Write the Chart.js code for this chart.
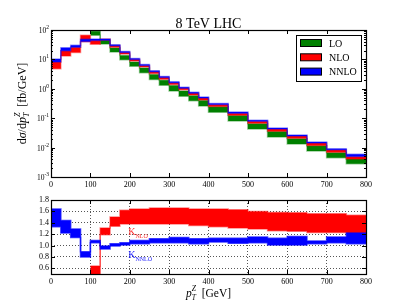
<!DOCTYPE html>
<html lang="en">
<head>
  <meta charset="UTF-8">
  <title>pT(Z) spectrum, 8 TeV LHC</title>
  <style>
    body {
      margin: 0;
      background: #fff;
    }
    .wrap {
      position: relative;
      width: 407px;
      height: 305px;
    }
    #mainChart { position: absolute; left: 0; top: 0; }
    #ratioChart { position: absolute; left: 0; top: 190px; }
  </style>
  <script src="https://cdn.jsdelivr.net/npm/chart.js"></script>
</head>
<body>
  <div class="wrap">
    <canvas id="mainChart" width="407" height="190"></canvas>
    <canvas id="ratioChart" width="407" height="115"></canvas>
  </div>

  <script>
    // --- data ---
    const mainEdges = [0, 25, 50, 75, 100, 125, 150, 175, 200, 225, 250, 275, 300, 325, 350, 375, 400,
                       450, 500, 550, 600, 650, 700, 750, 800];
    const loLow    = [null, null, null, null, 66, 33.4, 17.8, 9.8, 5.8, 3.5, 2.07, 1.33, 0.85, 0.56, 0.39, 0.26,
                      0.16, 0.081, 0.043, 0.023, 0.0132, 0.0076, 0.0045, 0.0028];
    const loHigh   = [null, null, null, null, 90, 45.7, 24.4, 13.7, 8.1, 5.06, 3.08, 1.97, 1.30, 0.85, 0.58, 0.40,
                      0.243, 0.123, 0.065, 0.035, 0.0201, 0.0116, 0.0067, 0.0041];
    const nloLow   = [4.8, 13.0, 17.3, 40, 33, 45, 25.7, 15.2, 8.8, 5.5, 3.3, 2.13, 1.4, 0.92, 0.61, 0.42,
                      0.25, 0.126, 0.067, 0.0358, 0.0207, 0.0119, 0.0069, 0.0041];
    const nloHigh  = [8.3, 20.2, 26, 66, 45, 49, 29.5, 17.4, 10.1, 6.25, 3.85, 2.45, 1.62, 1.06, 0.72, 0.49,
                      0.29, 0.148, 0.0785, 0.043, 0.0248, 0.0143, 0.0085, 0.0050];
    const nnloLow  = [8.1, 19.8, 25.7, 41, 44, 45, 29.3, 17.3, 10, 6.2, 3.8, 2.43, 1.6, 1.05, 0.71, 0.49,
                      0.29, 0.148, 0.0785, 0.043, 0.0248, 0.0143, 0.0085, 0.0050];
    const nnloHigh = [10.3, 25, 30, 48, 49, 49.5, 31.6, 18.7, 10.8, 6.7, 4.1, 2.63, 1.73, 1.14, 0.77, 0.53,
                      0.315, 0.164, 0.085, 0.0466, 0.0269, 0.0155, 0.0092, 0.0059];

    const ratioEdges = [0, 25, 50, 75, 100, 125, 150, 175, 200, 250, 300, 350, 400, 450, 500, 550, 600, 650, 700, 750, 800];
    const kNloLow   = [null, null, null, null, 0.40, 1.19, 1.34, 1.38, 1.38, 1.38, 1.38, 1.35, 1.33, 1.31, 1.29, 1.26,
                       1.25, 1.23, 1.23, 1.21];
    const kNloHigh  = [null, null, null, null, 0.64, 1.31, 1.50, 1.62, 1.64, 1.66, 1.66, 1.64, 1.64, 1.63, 1.60, 1.58,
                       1.575, 1.56, 1.56, 1.53];
    const kNnloLow  = [1.33, 1.22, 1.14, 0.80, 1.05, 0.94, 0.99, 1.01, 1.03, 1.05, 1.05, 1.03, 1.06, 1.04, 1.05, 1.01,
                       1.01, 1.03, 1.05, 1.03];
    const kNnloHigh = [1.64, 1.44, 1.29, 0.89, 1.09, 0.99, 1.03, 1.05, 1.09, 1.12, 1.14, 1.12, 1.13, 1.13, 1.15, 1.13,
                       1.16, 1.08, 1.15, 1.22];

    const xTicks = [0, 100, 200, 300, 400, 500, 600, 700, 800];
    const logTicks = [1e-3, 1e-2, 1e-1, 1, 10, 100];
    const logTickExp = ['-3', '-2', '-1', '0', '1', '2'];
    const ratioTicks = [0.6, 0.8, 1.0, 1.2, 1.4, 1.6, 1.8];
    const legendLabels = ['LO', 'NLO', 'NNLO'];

    const SERIF = "'Liberation Serif', 'DejaVu Serif', serif";
    const GREEN = '#008000', RED = '#ff0000', BLUE = '#0000ff';

    // minor log ticks 2..9 in each decade
    const logMinor = [];
    for (let k = -3; k < 2; k++) {
      for (let m = 2; m <= 9; m++) logMinor.push(m * Math.pow(10, k));
    }

    // bin values -> points at left edges, last value repeated at the right edge
    function stepPoints(edges, vals) {
      const pts = [];
      vals.forEach((v, i) => { if (v !== null) pts.push({ x: edges[i], y: v }); });
      pts.push({ x: edges[vals.length], y: vals[vals.length - 1] });
      return pts;
    }

    function band(edges, label, lo, hi, color, edge, order) {
      const common = { borderColor: edge, borderWidth: 1.5, pointRadius: 0, stepped: true, order: order };
      return [
        Object.assign({ label: label + ' low', data: stepPoints(edges, lo), fill: false }, common),
        Object.assign({ label: label, data: stepPoints(edges, hi), fill: '-1', backgroundColor: color }, common)
      ];
    }

    // text made of runs (for sub/superscripts)
    function fontOf(r) {
      return (r.italic ? 'italic ' : '') + r.size + 'px ' + SERIF;
    }
    function drawRuns(ctx, runs, x, y, align, color) {
      let cur = 0, prevX = 0;
      const placed = runs.map(r => {
        ctx.font = fontOf(r);
        const w = ctx.measureText(r.t).width;
        let px;
        if (r.stack) { px = prevX; cur = Math.max(cur, px + w); }
        else { px = cur; cur += w; }
        prevX = px;
        return { r: r, px: px };
      });
      const x0 = align === 'center' ? x - cur / 2 : align === 'right' ? x - cur : x;
      ctx.fillStyle = color;
      ctx.textAlign = 'left';
      ctx.textBaseline = 'alphabetic';
      placed.forEach(p => {
        ctx.font = fontOf(p.r);
        ctx.fillText(p.r.t, x0 + p.px, y + (p.r.dy || 0));
      });
    }

    // frame, inward ticks and extra text
    const decor = {
      id: 'decor',
      afterDatasetsDraw(chart, args, opts) {
        const { ctx, chartArea: a, scales } = chart;
        const x = scales.x, y = scales.y;
        ctx.save();
        ctx.strokeStyle = '#000';
        ctx.lineWidth = 1;
        const seg = (x1, y1, x2, y2) => { ctx.beginPath(); ctx.moveTo(x1, y1); ctx.lineTo(x2, y2); ctx.stroke(); };

        opts.xMajor.forEach(v => {
          const px = Math.round(x.getPixelForValue(v)) + 0.5;
          seg(px, a.bottom, px, a.bottom - 4);
          seg(px, a.top, px, a.top + 4);
        });
        opts.yMajor.forEach(v => {
          const py = Math.round(y.getPixelForValue(v)) + 0.5;
          seg(a.left, py, a.left + 4, py);
          seg(a.right, py, a.right - 4, py);
        });
        (opts.yMinor || []).forEach(v => {
          const py = Math.round(y.getPixelForValue(v)) + 0.5;
          seg(a.left, py, a.left + 2, py);
          seg(a.right, py, a.right - 2, py);
        });
        ctx.lineWidth = 1.2;
        ctx.strokeRect(Math.round(a.left) + 0.5, Math.round(a.top) + 0.5,
                       Math.round(a.right - a.left), Math.round(a.bottom - a.top));

        if (opts.main) {
          // log tick labels 10^k
          logTicks.forEach((v, i) => {
            const py = y.getPixelForValue(v);
            drawRuns(ctx, [{ t: '10', size: 7.5 }, { t: logTickExp[i], size: 5.5, dy: -4 }],
                     a.left - 2, py + 3, 'right', '#000');
          });
          // title
          drawRuns(ctx, [{ t: '8 TeV LHC', size: 14 }], (a.left + a.right) / 2, 28, 'center', '#000');
          // y axis title
          ctx.save();
          ctx.translate(26, (a.top + a.bottom) / 2);
          ctx.rotate(-Math.PI / 2);
          drawRuns(ctx, [
            { t: 'd', size: 12 }, { t: '\u03c3', size: 12, italic: true }, { t: '/d', size: 12 },
            { t: 'p', size: 12, italic: true }, { t: 'T', size: 8, italic: true, dy: 3 },
            { t: 'Z', size: 8, italic: true, dy: -6, stack: true },
            { t: '  [fb/GeV]', size: 12 }
          ], 0, 0, 'center', '#000');
          ctx.restore();
          // legend
          const lx = 296, ly = 35;
          ctx.fillStyle = '#fff';
          ctx.fillRect(lx, ly, 65, 46);
          ctx.lineWidth = 1;
          ctx.strokeStyle = '#000';
          ctx.strokeRect(lx + 0.5, ly + 0.5, 65, 46);
          [GREEN, RED, BLUE].forEach((c, i) => {
            const ry = 39.5 + i * 14.3;
            ctx.fillStyle = c;
            ctx.fillRect(300.5, ry, 21, 7);
            ctx.strokeRect(300.5, ry, 21, 7);
            drawRuns(ctx, [{ t: legendLabels[i], size: 10 }], 329, ry + 7, 'left', '#000');
          });
        } else {
          // ratio labels
          const kx = x.getPixelForValue(196);
          drawRuns(ctx, [{ t: 'K', size: 10 }, { t: 'NLO', size: 6, dy: 2.5 }],
                   kx, y.getPixelForValue(1.185), 'left', '#ff3030');
          drawRuns(ctx, [{ t: 'K', size: 10 }, { t: 'NNLO', size: 6, dy: 2.5 }],
                   kx, y.getPixelForValue(0.78), 'left', '#2020ff');
          // x axis title
          drawRuns(ctx, [
            { t: 'p', size: 11.5, italic: true }, { t: 'T', size: 7.5, italic: true, dy: 3 },
            { t: 'Z', size: 7.5, italic: true, dy: -6, stack: true },
            { t: '  [GeV]', size: 11.5 }
          ], (a.left + a.right) / 2, 107, 'center', '#000');
        }
        ctx.restore();
      }
    };

    const tickFont = { family: SERIF, size: 8 };

    // main spectrum
    new Chart(document.getElementById('mainChart'), {
      type: 'line',
      data: {
        datasets: [].concat(
          band(mainEdges, 'LO', loLow, loHigh, GREEN, 'rgba(0,128,0,0.4)', 3),
          band(mainEdges, 'NLO', nloLow, nloHigh, RED, 'rgba(255,0,0,0.4)', 2),
          band(mainEdges, 'NNLO', nnloLow, nnloHigh, BLUE, 'rgba(0,0,255,0.4)', 1)
        )
      },
      options: {
        responsive: false,
        animation: false,
        layout: { padding: { left: 0, right: 41, top: 30, bottom: 0 } },
        plugins: {
          legend: { display: false },
          tooltip: { enabled: false },
          decor: { main: true, xMajor: xTicks, yMajor: logTicks, yMinor: logMinor }
        },
        scales: {
          x: {
            type: 'linear', min: 0, max: 800,
            afterBuildTicks: s => { s.ticks = xTicks.map(v => ({ value: v })); },
            afterFit: s => { s.height = 13; },
            ticks: { font: tickFont, color: '#000', padding: 3, maxRotation: 0, autoSkip: false },
            grid: { display: false, drawTicks: false },
            border: { display: false }
          },
          y: {
            type: 'logarithmic', min: 1e-3, max: 100,
            afterBuildTicks: s => { s.ticks = logTicks.map(v => ({ value: v })); },
            afterFit: s => { s.width = 51; },
            ticks: { display: false },
            grid: { display: false, drawTicks: false },
            border: { display: false }
          }
        }
      },
      plugins: [decor]
    });

    // K-factor panel
    new Chart(document.getElementById('ratioChart'), {
      type: 'line',
      data: {
        datasets: [].concat(
          band(ratioEdges, 'K NLO', kNloLow, kNloHigh, RED, 'rgba(255,0,0,0.45)', 2),
          band(ratioEdges, 'K NNLO', kNnloLow, kNnloHigh, BLUE, 'rgba(0,0,255,0.7)', 1)
        )
      },
      options: {
        responsive: false,
        animation: false,
        layout: { padding: { left: 0, right: 41, top: 10, bottom: 0 } },
        plugins: {
          legend: { display: false },
          tooltip: { enabled: false },
          decor: { main: false, xMajor: xTicks, yMajor: ratioTicks }
        },
        scales: {
          x: {
            type: 'linear', min: 0, max: 800,
            afterBuildTicks: s => { s.ticks = xTicks.map(v => ({ value: v })); },
            afterFit: s => { s.height = 31; },
            ticks: { font: tickFont, color: '#000', padding: 3, maxRotation: 0, autoSkip: false },
            grid: { color: '#555', drawTicks: false },
            border: { display: false, dash: [1, 2] }
          },
          y: {
            type: 'linear', min: 0.5, max: 1.8,
            afterBuildTicks: s => { s.ticks = ratioTicks.map(v => ({ value: v })); },
            afterFit: s => { s.width = 51; },
            ticks: { font: tickFont, color: '#000', padding: 2, autoSkip: false, callback: v => v.toFixed(1) },
            grid: { color: '#555', drawTicks: false },
            border: { display: false, dash: [1, 2] }
          }
        }
      },
      plugins: [decor]
    });
  </script>
</body>
</html>
